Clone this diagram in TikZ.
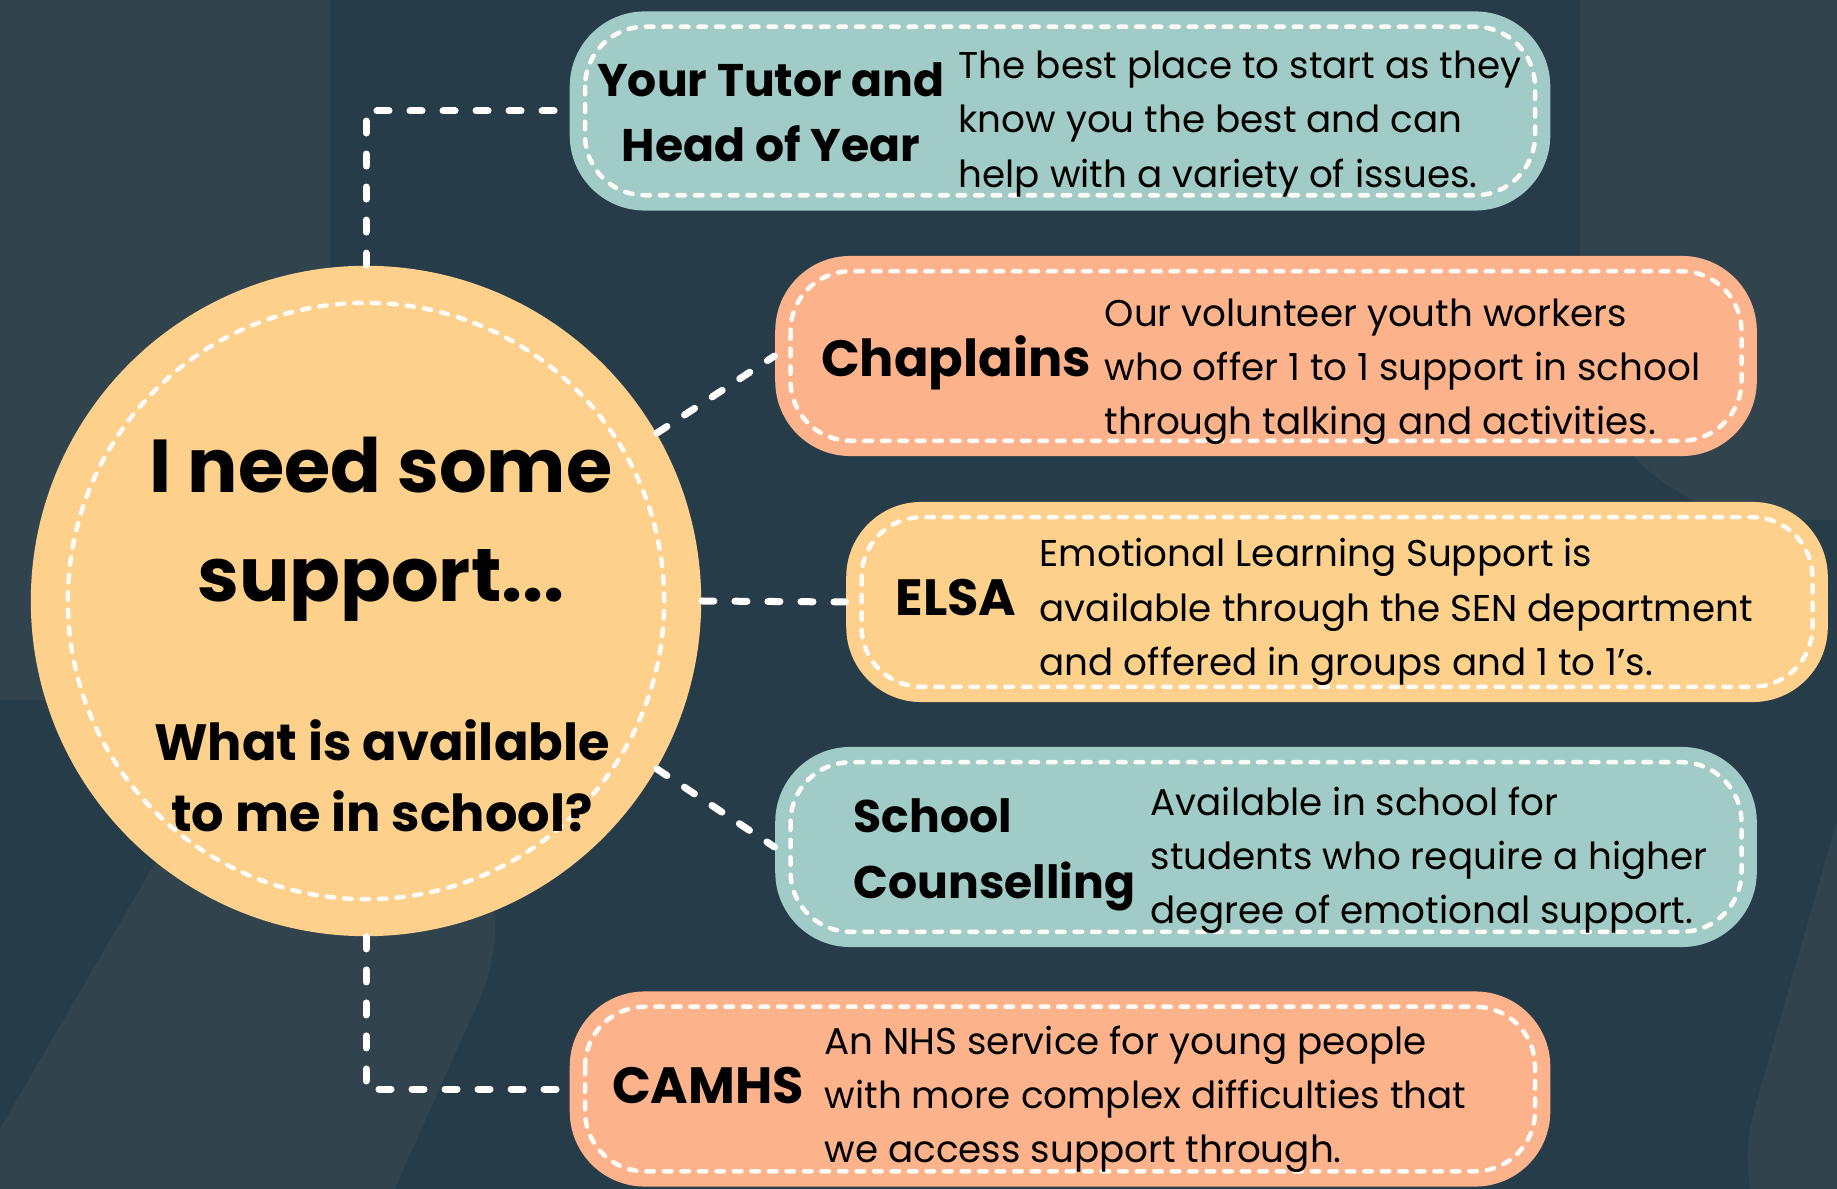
\documentclass[tikz,border=0pt]{standalone}
\usepackage{fontspec}
\setmainfont{Poppins}
\usetikzlibrary{positioning}
\definecolor{bg}{RGB}{39,60,73}
\definecolor{haze}{RGB}{49,68,77}
\definecolor{tl}{RGB}{160,203,198}
\definecolor{or}{RGB}{252,179,139}
\definecolor{ye}{RGB}{253,208,140}

\begin{document}
\begin{tikzpicture}[
  x=0.01cm,y=-0.01cm,
  box/.style={rectangle,rounded corners=0.75cm,minimum width=9.8cm,
              minimum height=2cm,inner sep=0pt},
  tb/.style={box,fill=tl},
  ob/.style={box,fill=or},
  yb/.style={box,fill=ye},
  stitch/.style={draw=white!94!ye,line width=0.045cm,line cap=round,
                 dash pattern=on 0.075cm off 0.1cm,rounded corners=0.6cm},
  link/.style={draw=white,line width=0.07cm,line cap=round,
               dash pattern=on 0.12cm off 0.21cm},
  hd/.style={font=\fontsize{13}{18.6}\selectfont\bfseries,align=center,inner sep=0pt},
  hdl/.style={font=\fontsize{14.5}{20}\selectfont\bfseries,inner sep=0pt},
  tx/.style={font=\fontsize{10.6}{15.4}\selectfont,align=left,anchor=west,inner sep=0pt}
]
\def\IN{16}
% background
\useasboundingbox (0,0) rectangle (1837,1189);
\fill[bg] (0,0) rectangle (1837,1189);
\fill[haze,rounded corners=2cm] (-300,-300) rectangle (330,700);
\fill[haze,rounded corners=2cm] (1580,-300) rectangle (2100,520);
\fill[haze,rounded corners=2cm] (-100,1300) -- (250,700) -- (560,820) -- (300,1400) -- cycle;
\fill[haze,rounded corners=2cm] (1900,600) -- (1700,1300) -- (1900,1300) -- cycle;
% hub
\node[circle,fill=ye,minimum size=6.7cm,inner sep=0pt] (hub) at (366,601) {};
% boxes
\node[tb,minimum height=1.99cm] (tutor) at (1060,111) {};
\node[ob,minimum width=9.81cm]  (chap)  at (1266,356) {};
\node[yb,minimum width=9.81cm]  (elsa)  at (1337,602) {};
\node[tb,minimum width=9.81cm]  (couns) at (1266,847) {};
\node[ob,minimum height=1.95cm] (camhs) at (1060,1089) {};
% links
\draw[link] (hub.north) |- (tutor.west);
\draw[link] (hub.30) -- (chap.west);
\draw[link] (hub.east) -- (elsa.west);
\draw[link] (hub.-30) -- (couns.west);
\draw[link] (hub.south) |- (camhs.west);
% stitching
\draw[stitch] (hub.center) circle[radius=2.98cm];
\foreach \b in {tutor,chap,elsa,couns,camhs}
  \draw[stitch] ([shift={(\IN,\IN)}]\b.north west) rectangle ([shift={(-\IN,-\IN)}]\b.south east);
% hub text
\node[font=\fontsize{21.3}{31}\selectfont\bfseries,align=center] (ask) at (381,529) {I need some\\support...};
\node[font=\fontsize{14.5}{20.2}\selectfont\bfseries,align=center] (what) at (382,776) {What is available\\to me in school?};
% labels
\node[hd]  (tutorhd) at (771,112) {Your Tutor and\\Head of Year};
\node[tx]  (tutortx) at (958,124) {The best place to start as they\\know you the best and can\\help with a variety of issues.};
\node[hdl] (chaphd)  at (956,363) {Chaplains};
\node[tx]  (chaptx)  at (1104,372) {Our volunteer youth workers\\who offer 1 to 1 support in school\\through talking and activities.};
\node[hdl] (elsahd)  at (956,598) {ELSA};
\node[tx]  (elsatx)  at (1039,612) {Emotional Learning Support is\\available through the SEN department\\and offered in groups and 1 to 1's.};
\node[hd,anchor=west,align=left] (counshd) at (853,855) {School\\Counselling};
\node[tx]  (counstx) at (1150,860) {Available in school for\\students who require a higher\\degree of emotional support.};
\node[hdl] (camhshd) at (708,1086) {CAMHS};
\node[tx]  (camhstx) at (824,1099) {An NHS service for young people\\with more complex difficulties that\\we access support through.};
\end{tikzpicture}
\end{document}
